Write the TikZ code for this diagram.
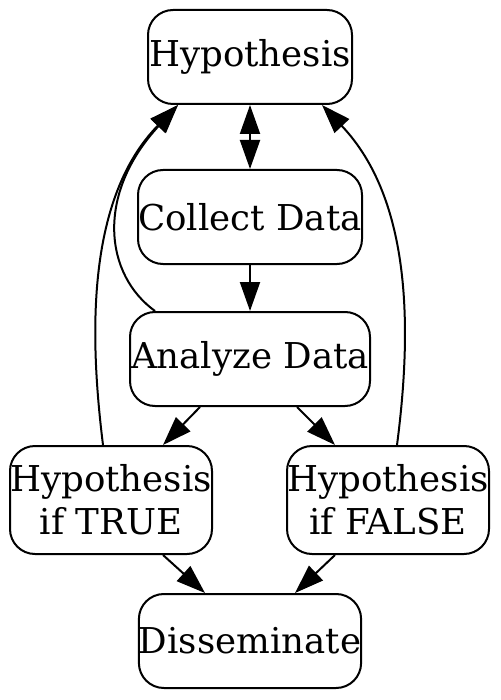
\documentclass[tikz,border=0pt]{standalone}
\usepackage{fontspec}
\setmainfont{DejaVu Serif}
\usetikzlibrary{arrows.meta}
\begin{document}
\begin{tikzpicture}[x=1pt,y=-1pt,
  >={Triangle[length=29pt,width=20pt]},
  every path/.style={line width=2pt},
  box/.style={draw,rectangle,rounded corners=25pt,inner sep=0pt,align=center,
    font=\fontsize{35.6}{43}\selectfont},
  conn/.style={draw,->}]
\useasboundingbox (0,0) rectangle (500,700);
\node[box,minimum width=204pt,minimum height=94pt] (hyp) at (250,57) {Hypothesis};
\node[box,minimum width=224pt,minimum height=94pt] (col) at (250,217) {Collect Data};
\node[box,minimum width=240pt,minimum height=94pt] (ana) at (250,359) {Analyze Data};
\node[box,minimum width=202pt,minimum height=108pt] (tru) at (111,500) {Hypothesis\\if TRUE};
\node[box,minimum width=202pt,minimum height=108pt] (fal) at (388,500) {Hypothesis\\if FALSE};
\node[box,minimum width=220pt,minimum height=94pt] (dis) at (250,641) {Disseminate};
\draw[<->] (hyp) -- (col);
\draw[conn] (col) -- (ana);
\draw[conn] ([xshift=-50pt]ana.south) -- ([xshift=52pt]tru.north);
\draw[conn] ([xshift=47pt]ana.south) -- ([xshift=-53pt]fal.north);
\draw[conn] ([xshift=52pt]tru.south) -- ([xshift=-45pt]dis.north);
\draw[conn] ([xshift=-53pt]fal.south) -- ([xshift=45pt]dis.north);
\draw[conn] ([xshift=-95pt]ana.north) .. controls (105,275) and (95,195) .. ([xshift=-72pt]hyp.south);
\draw[conn] ([xshift=-8pt]tru.north) .. controls (90,340) and (85,200) .. ([xshift=-72pt]hyp.south);
\draw[conn] ([xshift=9pt]fal.north) .. controls (412,330) and (412,200) .. ([xshift=72pt]hyp.south);
\end{tikzpicture}
\end{document}
